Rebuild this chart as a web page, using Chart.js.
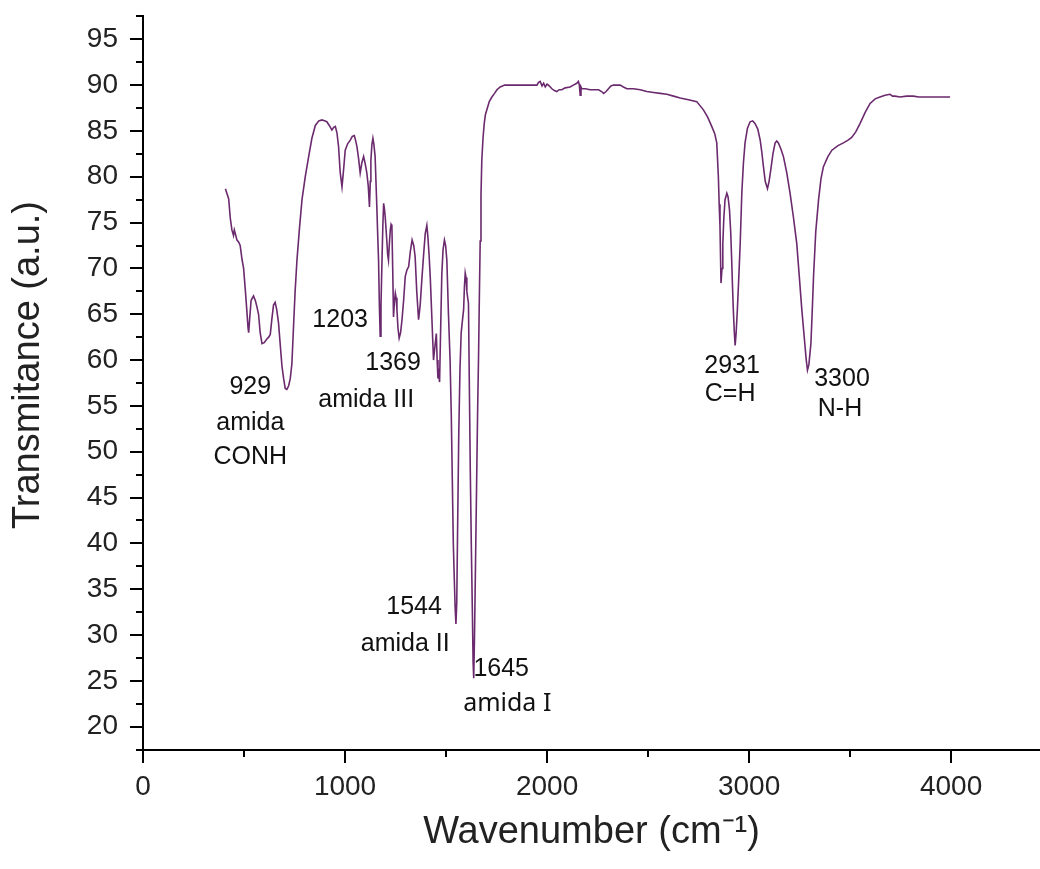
<!DOCTYPE html>
<html>
<head>
<meta charset="utf-8">
<script src="https://cdn.jsdelivr.net/npm/chart.js@4.4.1/dist/chart.umd.min.js"></script>
<style>
  html, body { margin: 0; padding: 0; background: #fff; }
  #wrap { width: 1040px; height: 869px; }
</style>
</head>
<body>
<div id="wrap"><canvas id="ftirChart" width="1040" height="869"></canvas></div>
<script>
// FTIR spectrum
var wavenumber = [
  408, 415, 424, 432, 440, 448, 452, 457, 465, 473, 481, 490, 498, 507, 515, 520, 523, 528, 535, 547,
  556, 564, 572, 580, 589, 600, 613, 622, 630, 638, 646, 654, 662, 671, 680, 688, 696, 704, 712, 721,
  729, 737, 745, 753, 762, 775, 787, 803, 820, 836, 853, 870, 886, 898, 910, 922, 935, 944, 952, 960,
  968, 976, 985, 993, 1001, 1013, 1026, 1036, 1046, 1052, 1059, 1067, 1075, 1083, 1092, 1100, 1108, 1115, 1121, 1125,
  1128, 1133, 1138, 1143, 1149, 1157, 1162, 1166, 1170, 1174, 1178, 1183, 1187, 1191, 1195, 1199, 1207, 1211, 1215, 1219,
  1224, 1228, 1232, 1236, 1240, 1245, 1249, 1253, 1257, 1262, 1268, 1275, 1282, 1290, 1298, 1306, 1315, 1323, 1332, 1340,
  1347, 1355, 1364, 1372, 1380, 1389, 1397, 1405, 1410, 1416, 1422, 1430, 1438, 1445, 1452, 1456, 1460, 1464, 1468, 1472,
  1479, 1485, 1492, 1498, 1504, 1512, 1520, 1526, 1531, 1536, 1541, 1545, 1549, 1553, 1558, 1563, 1569, 1575, 1582, 1587,
  1591, 1595, 1599, 1603, 1607, 1611, 1615, 1620, 1625, 1630, 1634, 1637, 1641, 1646, 1651, 1656, 1661, 1665, 1669, 1673,
  1677, 1683, 1689, 1695, 1702, 1714, 1727, 1740, 1752, 1768, 1790, 1820, 1851, 1885, 1917, 1950, 1958, 1966, 1975, 1983,
  1991, 2000, 2007, 2016, 2024, 2036, 2048, 2060, 2073, 2090, 2114, 2130, 2147, 2155, 2160, 2164, 2168, 2172, 2190, 2213,
  2235, 2255, 2270, 2280, 2292, 2304, 2316, 2329, 2345, 2362, 2378, 2395, 2428, 2461, 2494, 2527, 2560, 2593, 2626, 2659,
  2700, 2741, 2774, 2795, 2815, 2830, 2840, 2848, 2852, 2856, 2861, 2866, 2870, 2875, 2881, 2890, 2896, 2903, 2909, 2914,
  2918, 2922, 2927, 2931, 2936, 2942, 2949, 2956, 2964, 2972, 2980, 2992, 3005, 3018, 3030, 3043, 3055, 3063, 3071, 3080,
  3091, 3099, 3107, 3118, 3129, 3137, 3145, 3158, 3170, 3186, 3203, 3220, 3236, 3249, 3261, 3275, 3283, 3289, 3296, 3306,
  3312, 3319, 3330, 3344, 3356, 3368, 3390, 3410, 3440, 3467, 3490, 3508, 3528, 3549, 3574, 3599, 3624, 3648, 3673, 3698,
  3710, 3722, 3747, 3780, 3813, 3840, 3862, 3900, 3950, 3995
];
var transmittance = [
  78.7, 78.2, 77.6, 75.5, 74.2, 73.6, 74.2, 73.8, 73.1, 72.9, 72.5, 71.0, 70.0, 67.5, 65.1, 63.5, 63.0, 64.5, 66.5, 67.0,
  66.5, 65.8, 65.0, 63.0, 61.8, 61.9, 62.3, 62.5, 62.8, 64.5, 66.0, 66.3, 65.5, 64.0, 61.5, 59.3, 58.0, 56.9, 56.8, 57.2,
  58.0, 59.6, 63.6, 67.5, 70.9, 74.5, 77.5, 80.0, 82.2, 84.2, 85.6, 86.1, 86.2, 86.1, 86.0, 85.6, 85.1, 85.4, 85.5, 84.8,
  83.3, 80.5, 78.9, 80.8, 82.9, 83.6, 84.0, 84.4, 84.5, 84.0, 83.3, 82.0, 80.4, 81.5, 82.2, 81.4, 80.4, 79.0, 76.7, 79.5,
  81.8, 83.5, 84.2, 83.5, 82.2, 77.0, 73.5, 70.9, 66.0, 62.6, 66.0, 70.9, 74.5, 77.1, 76.5, 75.6, 73.0, 71.5, 70.9, 72.5,
  74.2, 74.8, 74.6, 70.0, 64.7, 66.5, 67.3, 66.8, 65.5, 63.5, 62.4, 63.0, 64.4, 66.5, 69.1, 69.8, 70.2, 71.8, 73.1, 72.5,
  71.3, 67.5, 64.4, 66.0, 68.7, 71.5, 73.8, 74.7, 73.5, 71.5, 69.0, 64.5, 60.0, 61.5, 62.9, 60.0, 58.0, 58.5, 57.6, 62.0,
  69.3, 72.0, 73.1, 72.5, 70.9, 65.0, 60.0, 54.0, 47.0, 40.0, 36.0, 33.0, 31.2, 33.5, 43.0, 52.0, 59.0, 63.0, 64.5, 65.5,
  68.0, 69.5, 69.0, 67.5, 66.8, 66.2, 58.0, 48.0, 40.0, 33.0, 27.0, 25.3, 30.0, 38.0, 46.0, 54.0, 60.5, 67.0, 73.0, 78.0,
  81.8, 84.2, 85.8, 86.8, 87.3, 88.2, 88.7, 89.1, 89.5, 89.8, 90.0, 90.0, 90.0, 90.0, 90.0, 90.0, 90.3, 90.4, 89.9, 90.2,
  89.8, 90.1, 90.0, 89.8, 89.6, 89.4, 89.3, 89.5, 89.5, 89.7, 89.8, 90.0, 90.2, 90.4, 90.0, 88.9, 89.8, 89.6, 89.6, 89.5,
  89.5, 89.5, 89.3, 89.1, 89.3, 89.6, 89.9, 90.0, 90.0, 90.0, 89.8, 89.6, 89.6, 89.5, 89.3, 89.2, 89.1, 89.0, 88.8, 88.6,
  88.4, 88.2, 87.3, 86.5, 85.5, 84.7, 83.7, 80.0, 77.0, 74.6, 68.4, 70.0, 72.7, 75.5, 77.5, 78.2, 77.8, 76.4, 74.0, 70.9,
  68.0, 65.5, 63.0, 61.6, 63.0, 65.5, 69.0, 72.7, 78.2, 81.5, 83.7, 85.3, 86.0, 86.1, 85.8, 85.2, 84.0, 82.7, 81.1, 79.5,
  78.7, 79.5, 80.7, 82.5, 83.7, 83.9, 83.7, 83.0, 82.2, 80.5, 78.2, 75.5, 72.7, 69.0, 65.5, 62.0, 60.0, 58.9, 59.5, 61.8,
  65.0, 69.1, 74.0, 77.5, 79.8, 81.1, 82.2, 82.9, 83.4, 83.7, 84.0, 84.3, 84.9, 85.8, 87.0, 88.0, 88.5, 88.7, 88.9, 89.0,
  88.8, 88.8, 88.7, 88.8, 88.8, 88.7, 88.7, 88.7, 88.7, 88.7
];

// axis ticks
var xTickValues = [0, 1000, 2000, 3000, 4000];
var xMinorValues = [500, 1500, 2500, 3500];
var yTickValues = [20, 25, 30, 35, 40, 45, 50, 55, 60, 65, 70, 75, 80, 85, 90, 95];
var yMinorValues = [17.5, 22.5, 27.5, 32.5, 37.5, 42.5, 47.5, 52.5, 57.5, 62.5, 67.5, 72.5, 77.5, 82.5, 87.5, 92.5, 97.5];

// peak labels: text and the spot (wavenumber, transmittance) where each line is centred
var peakText = ["929", "amida", "CONH", "1203", "1369", "amida III", "1544", "amida II", "1645", "amida I", "2931", "C=H", "3300", "N-H"];
var peakWn   = [531, 531, 531, 976, 1238, 1105, 1342, 1298, 1773, 1803, 2916, 2906, 3460, 3450];
var peakT    = [57.1, 53.1, 49.4, 64.4, 59.7, 55.6, 33.0, 29.0, 26.3, 22.5, 59.3, 56.3, 57.9, 54.7];

var points = [];
for (var i = 0; i < wavenumber.length; i++) {
    points.push({ x: wavenumber[i], y: transmittance[i] });
}

var extras = {
    id: "extras",
    afterDraw: function(chart) {
        var ctx = chart.ctx;
        var xs = chart.scales.x;
        var ys = chart.scales.y;
        var area = chart.chartArea;
        ctx.save();

        // minor ticks
        ctx.strokeStyle = "#000";
        ctx.lineWidth = 2;
        ctx.beginPath();
        yMinorValues.forEach(function(v) {
            var py = Math.round(ys.getPixelForValue(v));
            ctx.moveTo(area.left - 7, py);
            ctx.lineTo(area.left, py);
        });
        xMinorValues.forEach(function(w) {
            var px = Math.round(xs.getPixelForValue(w));
            ctx.moveTo(px, area.bottom);
            ctx.lineTo(px, area.bottom + 7);
        });
        ctx.stroke();

        // y title
        ctx.fillStyle = "#222";
        ctx.font = '38px "Liberation Sans", Arial, sans-serif';
        ctx.textAlign = "center";
        ctx.textBaseline = "middle";
        ctx.translate(29, (area.top + area.bottom) / 2 - 18);
        ctx.rotate(-Math.PI / 2);
        ctx.fillText("Transmitance (a.u.)", 0, 0);
        ctx.restore();

        // peak labels
        ctx.save();
        ctx.fillStyle = "#111";
        ctx.textAlign = "center";
        ctx.textBaseline = "middle";
        for (var k = 0; k < peakText.length; k++) {
            if (peakText[k] === "amida I") {
                ctx.font = '25px "Noto Sans", sans-serif';
            } else {
                ctx.font = '25px "Liberation Sans", Arial, sans-serif';
            }
            ctx.fillText(peakText[k], xs.getPixelForValue(peakWn[k]), ys.getPixelForValue(peakT[k]));
        }
        ctx.restore();
    }
};

function setTicks(values) {
    return function(scale) {
        scale.ticks = values.map(function(v) { return { value: v }; });
    };
}

var ctxFtir = document.getElementById("ftirChart");

new Chart(ctxFtir, {
    type: "scatter",
    data: {
        datasets: [
            {
                label: "FTIR",
                data: points,
                showLine: true,
                borderColor: "#6b2a6e",
                borderWidth: 1.6,
                pointRadius: 0,
                tension: 0,
            },
        ],
    },
    options: {
        responsive: false,
        animation: false,
        layout: {
            padding: { top: 16, right: 0, left: 0, bottom: 0 },
        },
        plugins: {
            legend: { display: false },
            tooltip: { enabled: false },
        },
        scales: {
            x: {
                type: "linear",
                min: 0,
                max: 4440,
                afterBuildTicks: setTicks(xTickValues),
                afterFit: function(scale) {
                    scale.height = 119;
                    scale.paddingLeft = 0;
                    scale.paddingRight = 0;
                },
                border: { display: true, color: "#000", width: 2 },
                grid: { drawOnChartArea: false, drawTicks: true, tickLength: 13, color: "#000", lineWidth: 2 },
                ticks: {
                    padding: 7,
                    color: "#222",
                    maxRotation: 0,
                    autoSkip: false,
                    callback: function(v) { return String(v); },
                    font: { family: '"Liberation Sans", Arial, sans-serif', size: 28 },
                },
                title: {
                    display: true,
                    text: "Wavenumber (cm\u207B\u00B9)",
                    color: "#222",
                    padding: { top: 0, bottom: 14 },
                    font: { family: '"Liberation Sans", Arial, sans-serif', size: 38 },
                },
            },
            y: {
                type: "linear",
                min: 17.46,
                max: 97.54,
                afterBuildTicks: setTicks(yTickValues),
                afterFit: function(scale) {
                    scale.width = 143;
                    scale.paddingTop = 0;
                    scale.paddingBottom = 0;
                },
                border: { display: true, color: "#000", width: 2 },
                grid: { drawOnChartArea: false, drawTicks: true, tickLength: 13, color: "#000", lineWidth: 2 },
                ticks: {
                    padding: 12,
                    color: "#222",
                    autoSkip: false,
                    callback: function(v) { return String(v); },
                    font: { family: '"Liberation Sans", Arial, sans-serif', size: 28 },
                },
            },
        },
    },
    plugins: [extras],
});
</script>
</body>
</html>
